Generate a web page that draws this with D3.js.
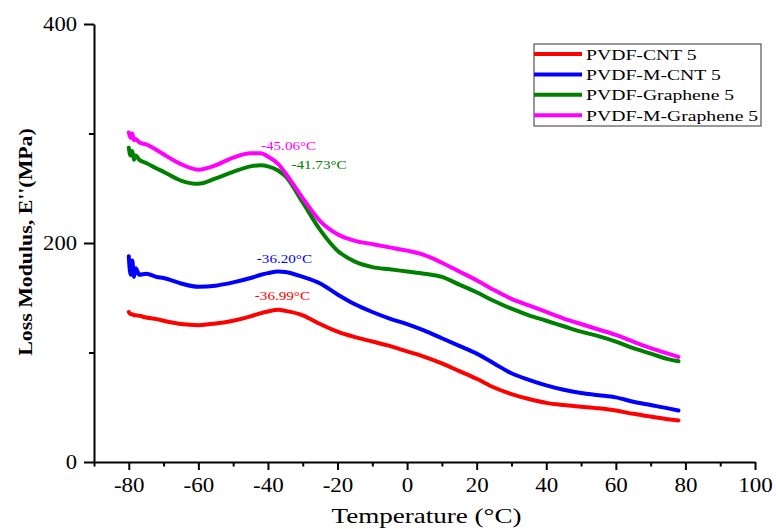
<!DOCTYPE html>
<html>
<head>
<meta charset="utf-8">
<script src="https://cdn.jsdelivr.net/npm/d3@7"></script>
<style>
body { margin: 0; background: #fff; }
text { font-family: "Liberation Serif", "Times New Roman", serif; }
</style>
</head>
<body>
<script>
// temperatures (°C) shared by all four runs
var temps = [-80, -79.5, -79, -78.5, -78, -77, -75, -72, -70, -65, -60, -55, -50, -45, -42, -40, -37, -35,
  -30, -25, -20, -15, -10, -5, 0, 5, 10, 15, 20, 25, 30, 35, 40, 45, 50, 55, 60, 65, 70, 75, 78];

// loss modulus E'' (MPa)
var cnt5 = [137, 135, 135, 134, 134, 133.5, 132, 130.5, 129, 126, 125, 126.5, 129, 133, 136, 137.5, 139, 138,
  134, 126, 119, 114, 110, 106, 101, 96, 90, 83, 76, 68, 62, 57.5, 54, 52, 50.5, 49, 47, 44, 41.5, 39, 38];
var mCnt5 = [188, 171, 184, 169, 177, 171, 172, 169, 168, 163, 160, 161, 164, 168, 171, 172.5, 174, 173.5,
  169, 163, 153, 144, 137, 131, 126, 120, 113, 106, 99, 90, 81, 75, 70, 66, 63, 61, 59, 55, 52, 49, 47];
var graphene5 = [287, 280, 284, 276, 280, 276, 273, 268, 265, 257, 254, 259, 265, 270, 271, 270, 266, 261,
  237, 212, 193, 183, 178, 176, 174, 172, 169, 162, 155, 147, 140, 134, 129, 124, 119, 115, 110, 104, 99, 94, 92];
var mGraphene5 = [301, 296, 300, 294, 295, 292, 290, 285, 281, 272, 267, 271, 278, 282, 282, 279, 272, 264,
  241, 220, 208, 202, 199, 196, 193, 189, 182, 174, 166, 157, 149, 143, 137, 131, 126, 121, 116, 110, 104, 99, 96];

var seriesNames = ['PVDF-CNT 5', 'PVDF-M-CNT 5', 'PVDF-Graphene 5', 'PVDF-M-Graphene 5'];
var seriesValues = [cnt5, mCnt5, graphene5, mGraphene5];
var seriesColors = ['#ff0000', '#0000ff', '#008000', '#ff00ff'];
var peakLabels = ['-36.99°C', '-36.20°C', '-41.73°C', '-45.06°C'];

var xMajor = [-80, -60, -40, -20, 0, 20, 40, 60, 80, 100];
var xMinor = [-90, -70, -50, -30, -10, 10, 30, 50, 70, 90];
var yMajor = [0, 200, 400];
var yMinor = [100, 300];

var width = 776, height = 529;
var svg = d3.select('body').append('svg')
    .attr('width', width)
    .attr('height', height);

var x = d3.scaleLinear().domain([-90, 100]).range([94, 755]);
var y = d3.scaleLinear().domain([0, 400]).range([462, 24]);

// stretch text wider, the source picture is a bit squashed sideways
function stretch(sel, k) {
  sel.each(function() {
    var w = this.getComputedTextLength();
    d3.select(this).attr('textLength', w * k).attr('lengthAdjust', 'spacingAndGlyphs');
  });
}
var plain = function(d) { return String(d); }; // hyphen, not the unicode minus

// minor ticks first
svg.append('g')
    .attr('transform', 'translate(0,' + y(0) + ')')
    .call(d3.axisBottom(x).tickValues(xMinor).tickSize(4.5).tickSizeOuter(0).tickFormat(''))
    .call(function(g) { g.select('.domain').remove(); });
svg.append('g')
    .attr('transform', 'translate(' + x(-90) + ',0)')
    .call(d3.axisLeft(y).tickValues(yMinor).tickSize(5).tickSizeOuter(0).tickFormat(''))
    .call(function(g) { g.select('.domain').remove(); });

var xAxis = svg.append('g')
    .attr('transform', 'translate(0,' + y(0) + ')')
    .call(d3.axisBottom(x).tickValues(xMajor).tickSize(8).tickSizeOuter(0).tickFormat(plain));
var yAxis = svg.append('g')
    .attr('transform', 'translate(' + x(-90) + ',0)')
    .call(d3.axisLeft(y).tickValues(yMajor).tickSize(10).tickSizeOuter(0).tickFormat(plain));

svg.selectAll('.domain').attr('stroke', '#000').attr('stroke-width', 2);
svg.selectAll('.tick line').attr('stroke', '#000').attr('stroke-width', 2);

xAxis.selectAll('text')
    .attr('y', 30).attr('dy', 0)
    .style('font-size', '20px').attr('fill', '#000');
yAxis.selectAll('text')
    .attr('x', -17).attr('dy', '0.34em')
    .style('font-size', '20px').attr('fill', '#000');
stretch(xAxis.selectAll('text'), 1.15);
stretch(yAxis.selectAll('text'), 1.13);

// axis titles
var xt = svg.append('text')
    .attr('x', (x(-90) + x(100)) / 2 + 2)
    .attr('y', 523)
    .attr('text-anchor', 'middle')
    .style('font-size', '22px')
    .text('Temperature (°C)');
stretch(xt, 1.23);

var yt = svg.append('text')
    .attr('transform', 'translate(32,242) rotate(-90)')
    .attr('text-anchor', 'middle')
    .style('font-size', '19px')
    .style('font-weight', 'bold')
    .text("Loss Modulus, E''(MPa)");
stretch(yt, 1.15);

// curves
var line = d3.line()
    .x(function(d, i) { return x(temps[i]); })
    .y(function(d) { return y(d); })
    .curve(d3.curveMonotoneX);

svg.selectAll('path.curve')
    .data(seriesValues)
    .enter().append('path')
    .attr('class', 'curve')
    .attr('d', line)
    .attr('fill', 'none')
    .attr('stroke', function(d, i) { return seriesColors[i]; })
    .attr('stroke-width', 4)
    .attr('stroke-linejoin', 'round')
    .attr('stroke-linecap', 'round');

// peak labels, placed by the peak of each curve between -50 and -30 °C
var labelOffsets = [[4, -10], [6, -8], [58, 4], [38, -3]];
seriesValues.forEach(function(vals, s) {
  var best = -1;
  temps.forEach(function(t, i) {
    if (t >= -50 && t <= -30 && (best < 0 || vals[i] > vals[best])) best = i;
  });
  var lb = svg.append('text')
      .attr('x', x(temps[best]) + labelOffsets[s][0])
      .attr('y', y(vals[best]) + labelOffsets[s][1])
      .attr('text-anchor', 'middle')
      .attr('fill', seriesColors[s])
      .style('font-size', '13.5px')
      .text(peakLabels[s]);
  stretch(lb, 1.12);
});

// legend
var legend = svg.append('g').attr('transform', 'translate(534,44)');
legend.append('rect')
    .attr('width', 227).attr('height', 82)
    .attr('fill', '#fff').attr('stroke', '#333').attr('stroke-width', 1);
var rows = legend.selectAll('g.row')
    .data(seriesNames)
    .enter().append('g')
    .attr('class', 'row')
    .attr('transform', function(d, i) { return 'translate(0,' + (10 + i * 20.4) + ')'; });
rows.append('line')
    .attr('x1', 0).attr('x2', 48)
    .attr('stroke', function(d, i) { return seriesColors[i]; })
    .attr('stroke-width', 4);
var lt = rows.append('text')
    .attr('x', 52).attr('y', 5.5)
    .style('font-size', '15.5px')
    .attr('fill', '#000')
    .text(function(d) { return d; });
stretch(lt, 1.27);
</script>
</body>
</html>
